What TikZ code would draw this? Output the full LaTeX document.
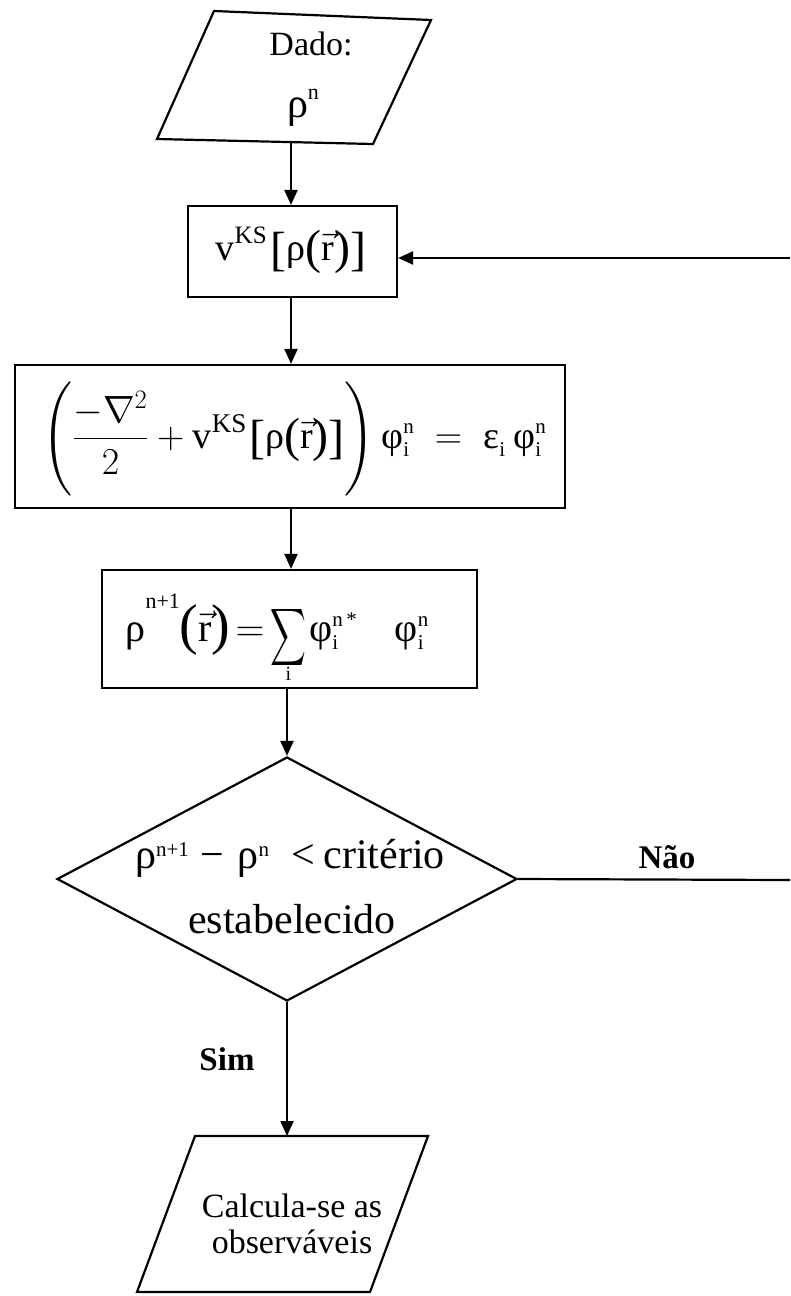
\RequirePackage{fix-cm}
\documentclass[tikz,border=0pt]{standalone}
\usepackage{amsmath}
\usepackage{exscale}
\usepackage{graphicx}
\usepackage{fontspec}
\setmainfont{Liberation Serif}
\DeclareFontShape{OMX}{cmex}{m}{n}{<-> cmex10}{}
\usetikzlibrary{arrows.meta,shapes.geometric}
\newcommand{\fsz}[1]{\fontsize{#1}{#1}\selectfont}
\newcommand{\supt}[3]{\raisebox{#1}{\fsz{#2}#3}}
\newcommand{\supsb}[4]{\rlap{\raisebox{-#2}{\fsz{21}#4}}\raisebox{#1}{\fsz{21}#3}}
\newcommand{\vecr}{$\vec{\mathrm{r}}$}
\tikzset{
  flowline/.style={line width=2.2pt},
  flowarrow/.style={line width=2.2pt,-{Triangle[length=15pt,width=13pt]}},
  boxnode/.style={draw,line width=2.2pt,rectangle,inner sep=0pt},
  decnode/.style={draw,line width=2.2pt,diamond,inner sep=0pt},
  txt/.style={inner sep=0pt,anchor=base},
  lbl/.style={inner sep=0pt,anchor=base,font=\fontsize{33}{38}\selectfont\bfseries}
}
\begin{document}
\begin{tikzpicture}[x=1pt,y=-1pt]
\useasboundingbox (0,0) rectangle (790,1296);
\fill[white] (0,0) rectangle (790,1296);

% input parallelogram
\draw[flowline,line join=miter] (214,11) -- (431,20) -- (373,144) -- (157,139) -- cycle;
\coordinate (dadoB) at (291,142);
\node[txt,font=\fsz{34}] (dado) at (311,55) {Dado:};
\node[txt,font=\fsz{42}] (dadorho) at (303,117) {ρ\supt{18pt}{22}{n}};

% v^KS box
\node[boxnode,minimum width=209pt,minimum height=91pt] (vks) at (292.5,251.5) {};
\node[txt,font=\fsz{38}] (vkst) at (291,260)
  {v\supt{17pt}{25}{KS}\hspace{4pt}\raisebox{-5pt}{\fsz{48}[}ρ\raisebox{-3pt}{\fsz{48}(}\vecr\raisebox{-3pt}{\fsz{48})}\raisebox{-5pt}{\fsz{48}]}};

% KS equation box
\node[boxnode,minimum width=550pt,minimum height=143pt] (ks) at (290,436.5) {};
\node[txt,font=\fsz{38}] (kst) at (294,448)
  {$\left(\vrule height 66pt depth 49pt width 0pt\dfrac{-\nabla^{2}}{2}+\text{v\supt{16pt}{27}{KS}\hspace{3pt}\raisebox{-5pt}{\fsz{48}[}ρ\raisebox{-3pt}{\fsz{48}(}\vecr\raisebox{-3pt}{\fsz{48})}\raisebox{-5pt}{\fsz{48}]}}\right)\text{φ\supsb{15pt}{8pt}{n}{i}}\;=\;\text{ε\supsb{15pt}{8pt}{}{i}\hspace{14pt}φ\supsb{15pt}{8pt}{n}{i}}$};

% density box
\node[boxnode,minimum width=375pt,minimum height=118pt] (dens) at (289.5,629) {};
\node[txt,font=\fsz{40}] (denst) at (277,641)
  {ρ\supt{33pt}{22}{n+1}\raisebox{-2pt}{\fsz{56}(}\vecr\raisebox{-2pt}{\fsz{56})}\hspace{5pt}$=$\hspace{6pt}\rlap{\makebox[36pt]{\raisebox{-39pt}{\fsz{20}i}}}\raisebox{-6pt}{\scalebox{0.62}[1]{$\displaystyle\sum$}}\hspace{3pt}φ\supsb{15pt}{8pt}{n\,*}{i}\hspace{38pt}φ\supsb{15pt}{8pt}{n}{i}};

% decision
\node[decnode,minimum width=460pt,minimum height=244pt] (dec) at (287,879) {};
\node[txt,font=\fsz{42}] (dect1) at (290,868)
  {ρ\supt{12pt}{21}{n+1}\hspace{12pt}−\hspace{13pt}ρ\supt{12pt}{21}{n}\hspace{22pt}<\hspace{9pt}critério};
\node[txt,font=\fsz{42}] (dect2) at (292,933) {estabelecido};

% output parallelogram
\draw[flowline,line join=miter] (195,1136) -- (428,1136) -- (370,1292) -- (137,1292) -- cycle;
\coordinate (outT) at (287,1136);
\node[txt,font=\fsz{34}] (out1) at (292,1217) {Calcula-se as};
\node[txt,font=\fsz{34}] (out2) at (292,1253) {observáveis};

% connectors
\draw[flowarrow] (dadoB) -- (dadoB |- vks.north);
\draw[flowarrow] (vks.south -| dadoB) -- (ks.north -| dadoB);
\draw[flowarrow] (ks.south -| dadoB) -- (dens.north -| dadoB);
\draw[flowarrow] (dens.south -| dec.north) -- (dec.north);
\draw[flowarrow] (dec.south) -- (outT);

\coordinate (loopA) at (790,880);
\coordinate (loopB) at (790,258);
\draw[flowline] (dec.east) -- (loopA);
\draw[flowarrow] (loopB) -- (loopB -| vks.east);

\node[lbl] (nao) at (667,868) {Não};
\node[lbl] (sim) at (227,1070) {Sim};
\end{tikzpicture}
\end{document}
